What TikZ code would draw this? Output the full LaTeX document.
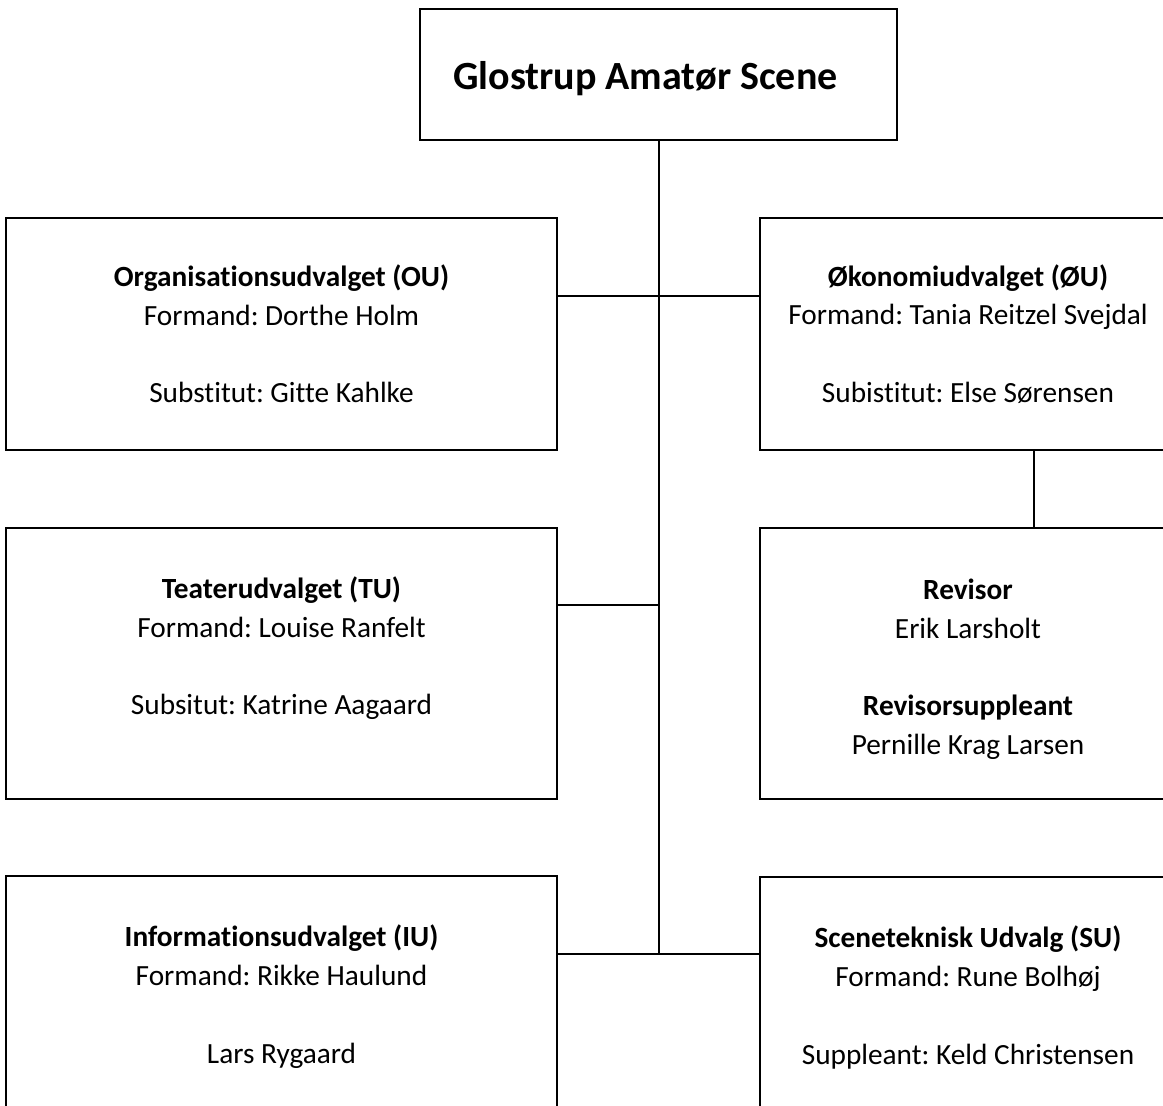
\documentclass[tikz,border=0pt]{standalone}
\usepackage{fontspec}
\setmainfont{Carlito}[Ligatures={NoCommon}]
\begin{document}
\frenchspacing
\begin{tikzpicture}[x=1pt,y=-1pt,
  box/.style={draw=black,line width=2pt,rectangle,align=center,inner sep=0pt,outer sep=0pt,
    font=\fontsize{29.3}{38.8}\selectfont\frenchspacing},
  conn/.style={draw=black,line width=2pt}]
\useasboundingbox (0,0) rectangle (1163,1106);
\clip (0,0) rectangle (1163,1106);
\fill[white] (0,0) rectangle (1163,1106);
\node[box,minimum width=477,minimum height=131,font=\fontsize{40}{47}\selectfont\bfseries] (top) at (658.5,74.5) {\hspace*{-26pt}\raisebox{-4pt}[\height][\depth]{Glostrup Amatør Scene}};
\node[box,minimum width=551,minimum height=232] (OU) at (281.5,334) {\textbf{Organisationsudvalget (OU)}\\Formand: Dorthe Holm\\[38.8pt]Substitut: Gitte Kahlke};
\node[box,minimum width=551,minimum height=271] (TU) at (281.5,663.5) {\textbf{Teaterudvalget (TU)}\\Formand: Louise Ranfelt\\[38.8pt]Subsitut: Katrine Aagaard\\[-15pt]\strut};
\node[box,minimum width=551,minimum height=271] (IU) at (281.5,1011.5) {\textbf{Informationsudvalget (IU)}\\Formand: Rikke Haulund\\[38.8pt]Lars Rygaard\\[-16pt]\strut};
\node[box,minimum width=416,minimum height=232] (OEU) at (968,334) {\textbf{Økonomiudvalget (ØU)}\\Formand: Tania Reitzel Svejdal\\[38.8pt]Subistitut: Else Sørensen};
\node[box,minimum width=416,minimum height=271] (Rev) at (968,663.5) {\rule{0pt}{32pt}\textbf{Revisor}\\Erik Larsholt\\[38.8pt]\textbf{Revisorsuppleant}\\Pernille Krag Larsen};
\node[box,minimum width=416,minimum height=271] (SU) at (968,1012.5) {\textbf{Sceneteknisk Udvalg (SU)}\\Formand: Rune Bolhøj\\[38.8pt]Suppleant: Keld Christensen\\[-16pt]\strut};
\coordinate (j1) at (658.5,296);
\coordinate (j2) at (658.5,605);
\coordinate (j3) at (658.5,954);
\coordinate (rv) at (1034,0);
\draw[conn] (top.south) -- (j3);
\draw[conn] (j1 -| OU.east) -- (j1 -| OEU.west);
\draw[conn] (j2 -| TU.east) -- (j2);
\draw[conn] (j3 -| IU.east) -- (j3 -| SU.west);
\draw[conn] (OEU.south -| rv) -- (Rev.north -| rv);
\end{tikzpicture}
\end{document}
